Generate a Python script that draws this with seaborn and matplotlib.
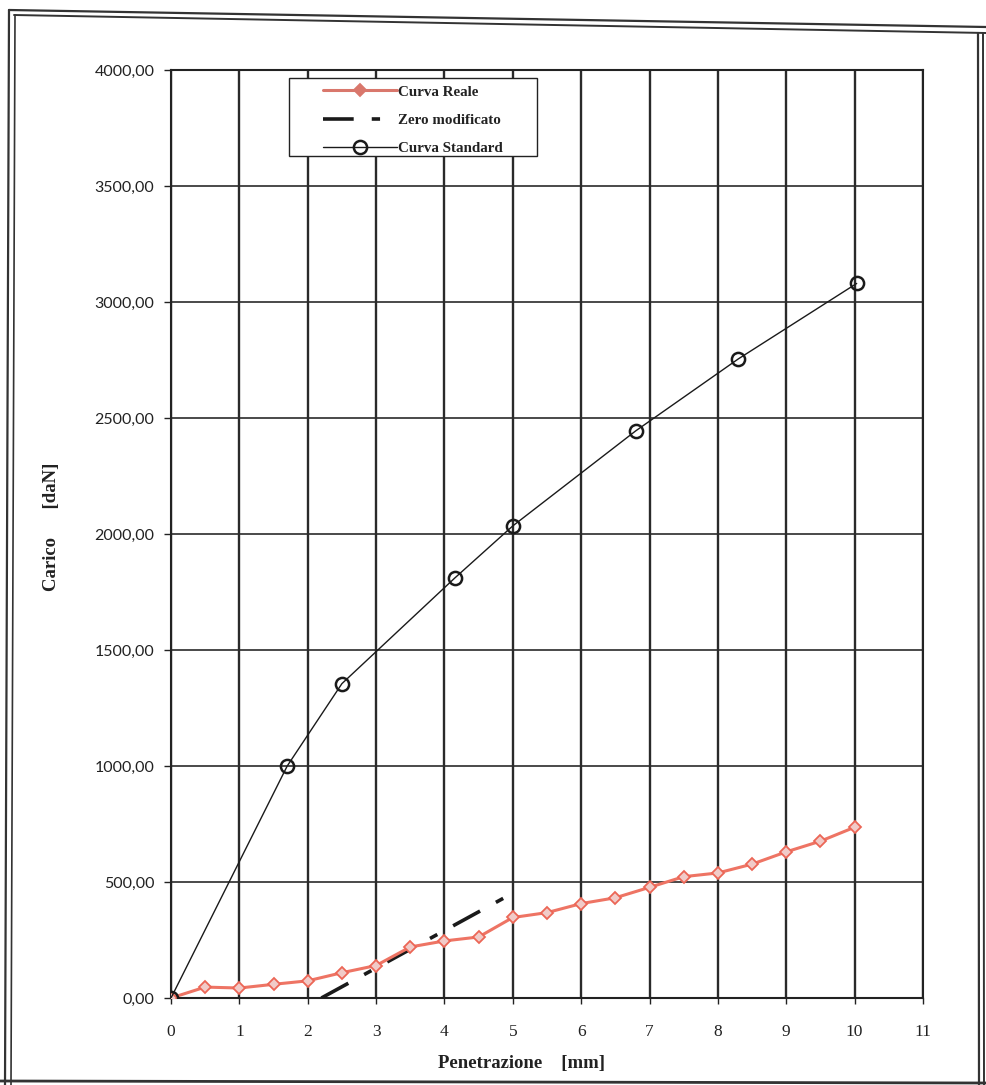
import matplotlib
matplotlib.use("Agg")
import matplotlib.pyplot as plt
from matplotlib.lines import Line2D
from matplotlib.patches import Rectangle
import seaborn as sns
import pandas as pd

# ---- data ----
reale_x = [0, 0.5, 1, 1.5, 2, 2.5, 3, 3.5, 4, 4.5, 5, 5.5, 6, 6.5, 7, 7.5, 8, 8.5, 9, 9.5, 10]
reale_y = [0, 47, 43, 59, 74, 109, 140, 220, 246, 263, 347, 368, 407, 432, 477, 523, 539, 577, 630, 676, 736]

zero_x = [2.2, 4.9]
zero_y = [0, 436]

std_x = [0, 1.7, 2.5, 4.15, 5.0, 6.8, 8.3, 10.03]
std_y = [0, 1000, 1355, 1810, 2035, 2445, 2755, 3080]

x_ticks = list(range(0, 12))
y_ticks = list(range(0, 4001, 500))
y_ticklabels = [f"{v},00" for v in y_ticks]

labels = ["Curva Reale", "Zero modificato", "Curva Standard"]
x_title = "Penetrazione    [mm]"
y_title = "Carico      [daN]"

sns.set_theme(style="white")
plt.rcParams["font.family"] = ["Liberation Serif", "DejaVu Serif"]

W, H = 986, 1085
fig = plt.figure(figsize=(W / 100, H / 100), dpi=100)
L, R, T, B = 171, 923, 70, 998
ax = fig.add_axes([L / W, 1 - B / H, (R - L) / W, (B - T) / H])

def px_to_ax(px, py):
    return (px - L) / (R - L), (B - py) / (B - T)

df_r = pd.DataFrame({"x": reale_x, "y": reale_y})
df_z = pd.DataFrame({"x": zero_x, "y": zero_y})
df_s = pd.DataFrame({"x": std_x, "y": std_y})

sns.lineplot(data=df_r, x="x", y="y", ax=ax, color="#ee7464", linewidth=2.2,
             marker="D", markersize=6.5, mfc="#f1cbc8", mec="#ec6656", mew=1.3,
             label=labels[0], zorder=4)
sns.lineplot(data=df_z, x="x", y="y", ax=ax, color="#1a1a1a", linewidth=2.6,
             linestyle=(0, (8.5, 5, 2.3, 5)), label=labels[1], zorder=3)
sns.lineplot(data=df_s, x="x", y="y", ax=ax, color="#1a1a1a", linewidth=1.0,
             marker="o", markersize=9.5, mfc="none", mec="#1a1a1a", mew=1.8,
             label=labels[2], zorder=5)

ax.set_xlim(0, 11)
ax.set_ylim(0, 4000)
ax.set_xticks(x_ticks)
ax.set_xticklabels([str(v) for v in x_ticks], fontsize=12.5, family=["Liberation Serif"])
ax.set_yticks(y_ticks)
ax.set_yticklabels(y_ticklabels, fontsize=11.5, family=["Lato", "DejaVu Sans"], color="#222222")
ax.tick_params(axis="y", direction="out", length=5, width=1, pad=7, colors="#222222", left=True)
ax.tick_params(axis="x", direction="out", length=4, width=1, pad=14.5, colors="#222222", bottom=True)

ax.xaxis.grid(True, color="#2a2a2a", linewidth=1.7)
ax.yaxis.grid(True, color="#2a2a2a", linewidth=1.2)
ax.set_axisbelow(True)
for s in ax.spines.values():
    s.set_color("#222222")
    s.set_linewidth(1.5)
    s.set_visible(True)

ax.set_xlabel(x_title, fontsize=13.5, fontweight="bold", color="#222222")
ax.set_ylabel(y_title, fontsize=13.5, fontweight="bold", color="#222222")
ax.xaxis.set_label_coords(*px_to_ax(521, 1055))
ax.yaxis.set_label_coords(*px_to_ax(60, 527))

# legend: box drawn like the reference (wide Excel-style frame)
bx0, by0 = px_to_ax(289, 156)
bx1, by1 = px_to_ax(537, 78)
ax.add_patch(Rectangle((bx0, by0), bx1 - bx0, by1 - by0, transform=ax.transAxes,
                       facecolor="white", edgecolor="#222222", linewidth=1.0, zorder=6))
leg = ax.legend(loc="center left", bbox_to_anchor=px_to_ax(323, 120), frameon=False,
                handlelength=4.9, labelspacing=0.98, borderpad=0, borderaxespad=0,
                handletextpad=0.08,
                prop={"family": "Liberation Serif", "weight": "bold", "size": 10.8})
leg.set_zorder(7)
for t in leg.get_texts():
    t.set_color("#222222")
hl = leg.legend_handles if hasattr(leg, "legend_handles") else leg.legendHandles
hl[0].set_markerfacecolor("#d9776c")
hl[0].set_markeredgecolor("#d9776c")
hl[0].set_color("#d9776c")

# ---- page border (scanned frame) ----
def fl(x0, y0, x1, y1, lw):
    fig.add_artist(Line2D([x0 / W, x1 / W], [1 - y0 / H, 1 - y1 / H],
                          transform=fig.transFigure, color="#333333", linewidth=lw))

fl(9, 10, 986, 27, 1.6)
fl(14, 15, 986, 33, 1.4)
fl(9, 10, 5, 1085, 1.6)
fl(15, 15, 11, 1085, 1.2)
fl(0, 1081, 986, 1083, 2.0)
fl(978, 33, 979, 1085, 1.6)
fl(983, 33, 984, 1085, 1.4)

fig.savefig("out.png", dpi=100, facecolor="white")
